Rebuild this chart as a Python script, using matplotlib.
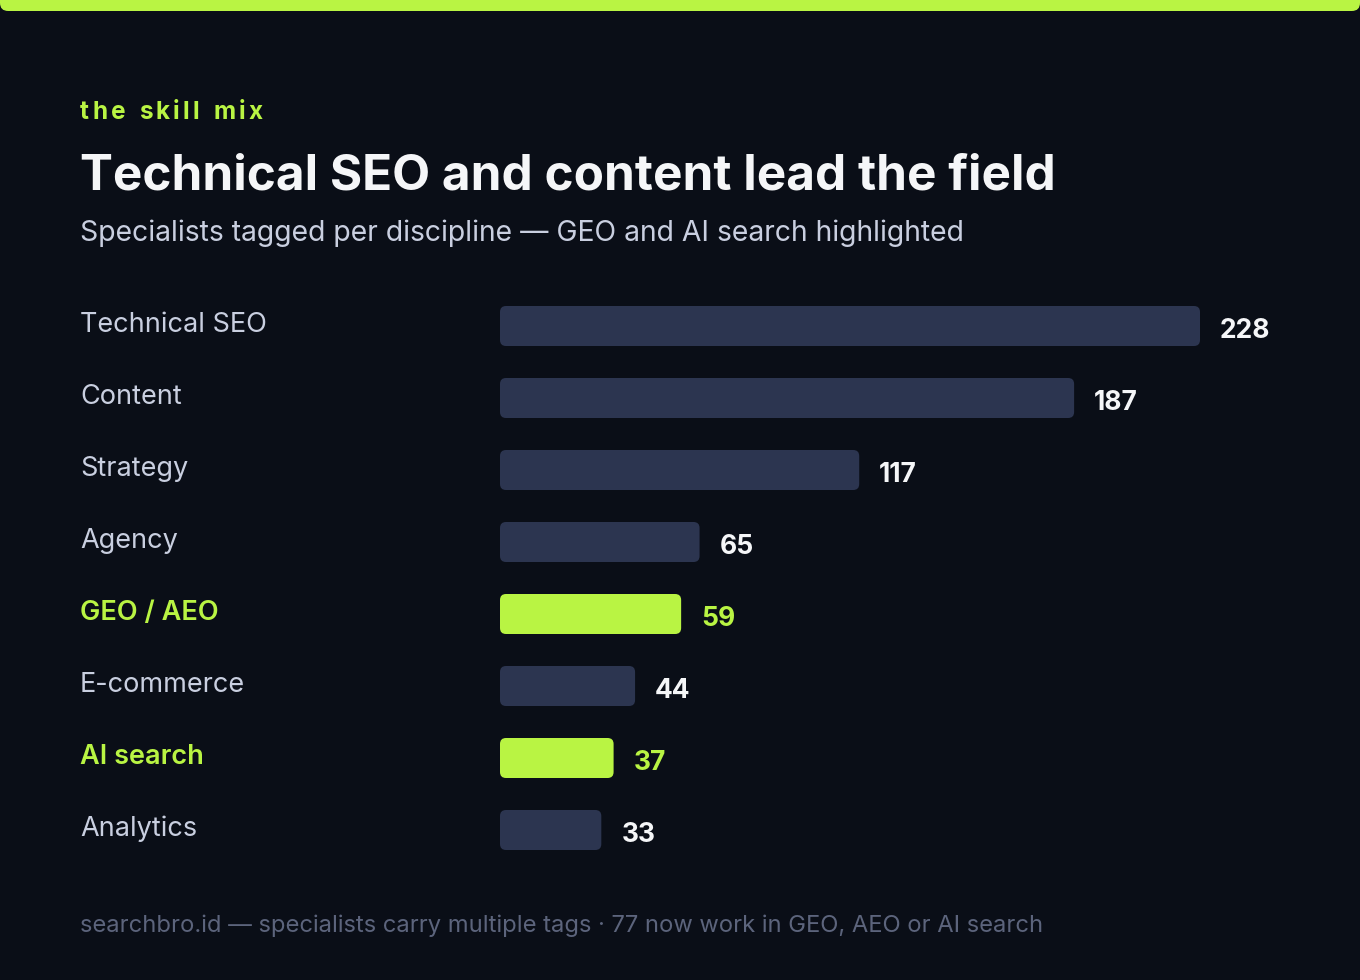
import matplotlib.pyplot as plt
from matplotlib.patches import FancyBboxPatch
from matplotlib.transforms import blended_transform_factory

# Data
categories = ["Technical SEO", "Content", "Strategy", "Agency", "GEO / AEO",
              "E-commerce", "AI search", "Analytics"]
counts = [228, 187, 117, 65, 59, 44, 37, 33]
highlighted = ["GEO / AEO", "AI search"]

kicker = "the skill mix"
title = "Technical SEO and content lead the field"
subtitle = "Specialists tagged per discipline \u2014 GEO and AI search highlighted"
footer = "searchbro.id \u2014 specialists carry multiple tags \u00b7 77 now work in GEO, AEO or AI search"

# Colours
BG = "#0a0e17"
BAR = "#2c3550"
GREEN = "#b9f443"
LABEL = "#c9cfe0"
WHITE = "#f5f6f8"
MUTED = "#5c647c"

plt.rcParams['font.family'] = ['Inter', 'DejaVu Sans']

W, H = 1360, 980
fig = plt.figure(figsize=(W / 100, H / 100), dpi=100, facecolor=BG)

# top accent strip
fig.patches.append(FancyBboxPatch((0, 1 - 11 / H), 1, 11 / H + 0.02,
                                  boxstyle="round,pad=0,rounding_size=0.006",
                                  transform=fig.transFigure, facecolor=GREEN,
                                  edgecolor="none", mutation_aspect=W / H))


def px(x, y):
    return x / W, 1 - y / H


# kicker with letter spacing
fig.canvas.draw()
renderer = fig.canvas.get_renderer()
x = 80
for ch in kicker:
    t = fig.text(*px(x, 119), ch, color=GREEN, fontsize=17.5, fontweight='bold',
                 va='baseline', ha='left')
    if ch == " ":
        w = 7
    else:
        w = t.get_window_extent(renderer).width
    x += w + 3.3

fig.text(*px(80, 190), title, color=WHITE, fontsize=35.6, fontweight='bold', va='baseline')
fig.text(*px(80, 241), subtitle, color=LABEL, fontsize=20.4, va='baseline')
fig.text(*px(80, 932), footer, color=MUTED, fontsize=17.1, va='baseline')

# Bars axes: x 0..228 maps to 500..1200 px, rows 72 px apart
ax = fig.add_axes([500 / W, 1 - 866 / H, 700 / W, 576 / H])
ax.set_facecolor("none")
ax.set_xlim(0, max(counts))
ax.set_ylim(len(categories) - 0.5, -0.5)
ax.axis('off')

bar_h = 40 / 72
x_per_px = max(counts) / 700
y_per_px = 1 / 72
radius = 6 * x_per_px
label_tr = blended_transform_factory(fig.transFigure, ax.transData)

for i, (cat, val) in enumerate(zip(categories, counts)):
    hl = cat in highlighted
    color = GREEN if hl else BAR
    ax.add_patch(FancyBboxPatch((0, i - bar_h / 2), val, bar_h,
                                boxstyle=f"round,pad=0,rounding_size={radius}",
                                mutation_aspect=y_per_px / x_per_px,
                                facecolor=color, edgecolor="none"))
    ax.text(val + 20 * x_per_px, i + 5 * y_per_px, str(val), color=GREEN if hl else WHITE,
            fontsize=19, fontweight='bold', va='center', ha='left', clip_on=False)
    ax.text(80 / W, i - 1 * y_per_px, cat, transform=label_tr,
            color=GREEN if hl else LABEL, fontsize=19.5,
            fontweight='semibold' if hl else 'normal', va='center', ha='left')

plt.savefig("out.png", dpi=100, facecolor=BG)
